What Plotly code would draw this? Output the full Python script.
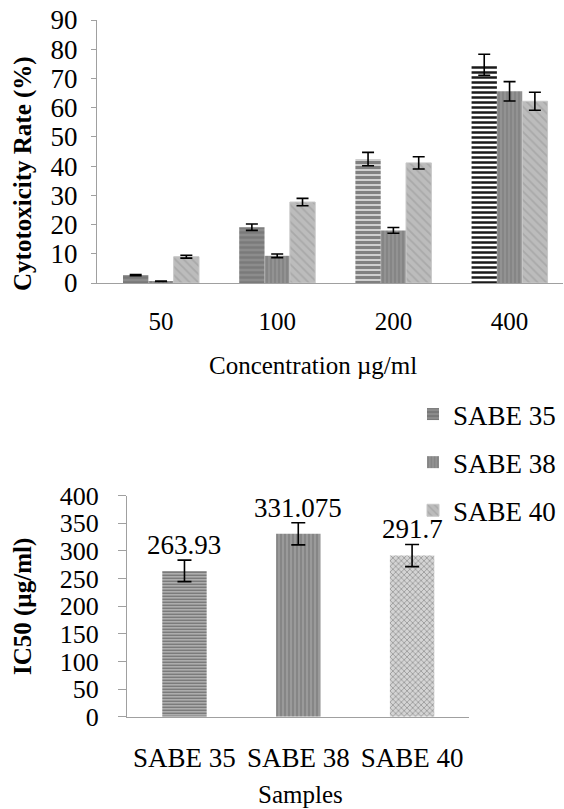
import plotly.graph_objects as go

# ---- data ----
concentrations = ["50", "100", "200", "400"]
sabe35 = [2.7, 19.1, 42.4, 74.7]
sabe35_err = [0.2, 1.1, 2.3, 3.6]
sabe38 = [0.6, 9.3, 18.0, 65.6]
sabe38_err = [0.1, 0.6, 1.0, 3.3]
sabe40 = [9.0, 27.7, 41.1, 62.2]
sabe40_err = [0.5, 1.25, 2.1, 3.1]

samples = ["SABE 35", "SABE 38", "SABE 40"]
ic50 = [263.93, 331.075, 291.7]
ic50_err = [19.5, 20, 20]
ic50_labels = ["263.93", "331.075", "291.7"]

W, H = 564, 809
FONT = "Liberation Serif"

def px_x(p):
    return p / W

def px_y(p):
    return 1 - p / H

fig = go.Figure()

err_style = dict(type="data", color="black", thickness=1.6, width=6)

fig.add_trace(go.Bar(
    name="SABE 35", x=concentrations, y=sabe35,
    error_y=dict(array=sabe35_err, **err_style),
    marker=dict(
        color="#8a8a8a",
        line=dict(width=0),
        pattern=dict(shape="-", size=5,
                     bgcolor=["#8c8c8c", "#8c8c8c", "#ffffff", "#ffffff"],
                     fgcolor=["#787878", "#7a7a7a", "#808080", "#1a1a1a"],
                     solidity=[0.5, 0.5, 0.75, 0.5],
                     fillmode="replace"),
    ),
    legendgroup="a", xaxis="x", yaxis="y",
))
fig.add_trace(go.Bar(
    name="SABE 38", x=concentrations, y=sabe38,
    error_y=dict(array=sabe38_err, **err_style),
    marker=dict(
        color="#8e8e8e",
        line=dict(width=0),
        pattern=dict(shape="|", size=4, bgcolor="#929292", fgcolor="#808080",
                     solidity=0.35, fillmode="replace"),
    ),
    legendgroup="b", xaxis="x", yaxis="y",
))
fig.add_trace(go.Bar(
    name="SABE 40", x=concentrations, y=sabe40,
    error_y=dict(array=sabe40_err, **err_style),
    marker=dict(
        color="#b8b8b8",
        line=dict(width=1, color="#c8c8c8"),
        pattern=dict(shape="\\", size=6, bgcolor="#bcbcbc", fgcolor="#a9a9a9",
                     solidity=0.3, fillmode="replace"),
    ),
    legendgroup="c", xaxis="x", yaxis="y",
))

# bottom IC50 chart
fig.add_trace(go.Bar(
    x=samples, y=ic50, width=0.39, showlegend=False,
    error_y=dict(type="data", array=ic50_err, color="black", thickness=1.6, width=7),
    marker=dict(
        color="#909090",
        line=dict(width=0),
        pattern=dict(shape=["-", "|", "x"], size=[3, 4, 4],
                     bgcolor=["#dcdcdc", "#9a9a9a", "#d4d4d4"],
                     fgcolor=["#666666", "#7e7e7e", "#9c9c9c"],
                     solidity=[0.6, 0.35, 0.4], fillmode="replace"),
    ),
    xaxis="x2", yaxis="y2",
))

annotations = []
for s, v, e, t in zip(samples, ic50, ic50_err, ic50_labels):
    annotations.append(dict(
        x=s, y=v + e, xref="x2", yref="y2", text=t, showarrow=False,
        xanchor="center", yanchor="bottom", yshift=-2,
        font=dict(family=FONT, size=27, color="black"),
    ))

# axis titles as annotations
title_font = dict(family=FONT, size=25, color="black")
annotations += [
    dict(x=px_x(23), y=px_y(174), xref="paper", yref="paper", text="<b>Cytotoxicity Rate (%)</b>",
         textangle=-90, showarrow=False, xanchor="center", yanchor="middle", font=title_font),
    dict(x=px_x(313), y=px_y(365), xref="paper", yref="paper", text="Concentration µg/ml",
         showarrow=False, xanchor="center", yanchor="middle", font=title_font),
    dict(x=px_x(23), y=px_y(607), xref="paper", yref="paper", text="<b>IC50 (µg/ml)</b>",
         textangle=-90, showarrow=False, xanchor="center", yanchor="middle", font=title_font),
    dict(x=px_x(300), y=px_y(794), xref="paper", yref="paper", text="Samples",
         showarrow=False, xanchor="center", yanchor="middle", font=title_font),
]

axis_line = dict(showline=True, linecolor="#a0a0a0", linewidth=1.3, showgrid=False,
                 zeroline=False, automargin=False)

fig.update_layout(
    width=W, height=H,
    margin=dict(l=0, r=0, t=0, b=0, autoexpand=False),
    paper_bgcolor="white", plot_bgcolor="white",
    barmode="group", bargap=0.346, bargroupgap=0,
    font=dict(family=FONT, color="black"),
    xaxis=dict(domain=[px_x(97), px_x(563)], anchor="y", type="category",
               range=[-0.551, 3.46], ticks="", ticklabelstandoff=16,
               tickfont=dict(family=FONT, size=25, color="black"), **axis_line),
    yaxis=dict(domain=[px_y(283), px_y(20)], anchor="x", range=[0, 90],
               tickvals=list(range(0, 91, 10)), ticks="outside", ticklen=5,
               tickcolor="#a0a0a0", ticklabelstandoff=8,
               tickfont=dict(family=FONT, size=27, color="black"), **axis_line),
    xaxis2=dict(domain=[px_x(127), px_x(469)], anchor="y2", type="category",
                range=[-0.505, 2.5], ticks="", ticklabelstandoff=17,
                tickfont=dict(family=FONT, size=27, color="black"), **axis_line),
    yaxis2=dict(domain=[px_y(716.7), px_y(495.7)], anchor="x2", range=[0, 400],
                tickvals=list(range(0, 401, 50)), ticks="outside", ticklen=8,
                tickcolor="#a0a0a0", ticklabelstandoff=14,
                tickfont=dict(family=FONT, size=26, color="black"), **axis_line),
    legend=dict(x=px_x(413), y=px_y(390), xanchor="left", yanchor="top",
                traceorder="grouped", tracegroupgap=10,
                font=dict(family=FONT, size=27, color="black"),
                bgcolor="rgba(0,0,0,0)", itemwidth=30),
    annotations=annotations,
)

fig.write_html("out.html", config={"displayModeBar": False},
               post_script="document.body.style.margin='0px';")
